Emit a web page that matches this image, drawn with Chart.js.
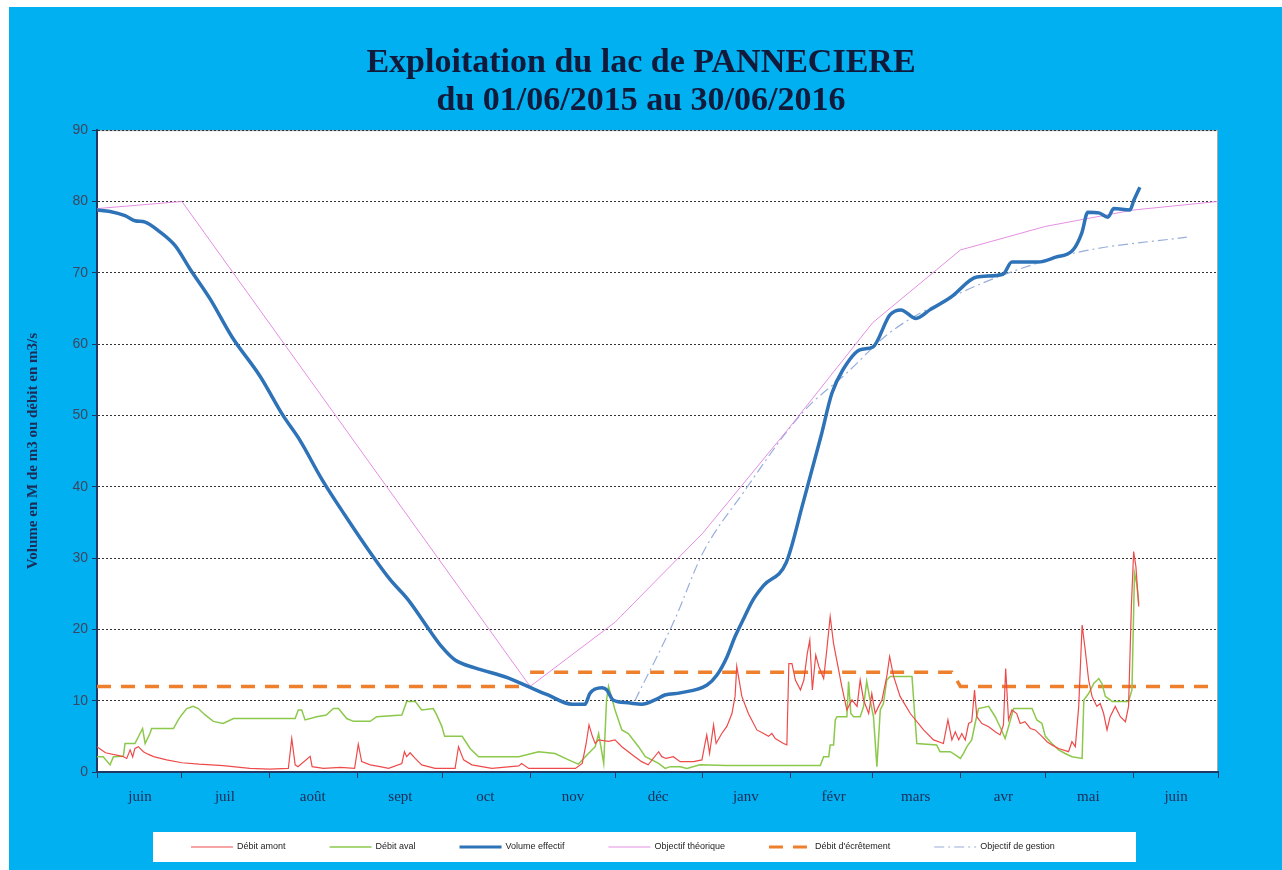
<html>
<head>
  <title>Exploitation du lac de Pannecière</title>
  <script src="https://cdn.jsdelivr.net/npm/chart.js"></script>
  <style>
    body {
      margin: 0;
      background-color: white;
    }
  </style>
</head>
<body>
  <canvas id="graphique" width="1282" height="870"></canvas>
  <script>
    //axe des abscisses : jours comptes depuis le 01/06/2015
    var debutsMois = [0, 30, 61, 92, 122, 153, 183, 214, 245, 274, 305, 335, 366, 396];
    var nomsMois = ["juin", "juil", "août", "sept", "oct", "nov", "déc", "janv", "févr", "mars", "avr", "mai", "juin"];
    var graduationsY = [0, 10, 20, 30, 40, 50, 60, 70, 80, 90];

    //debit amont (m3/s)
    var amontJours = [0, 3, 9, 10.5, 11.7, 12.6, 13.4, 14.6, 16.4, 18,
      20, 24.6, 30, 36, 44.6, 54, 61, 67.6, 68.8, 70,
      71, 75.3, 76, 80, 86, 91, 92.3, 93.5, 96.5, 100,
      103, 107.7, 108.6, 109.4, 110.6, 112.4, 114.7, 119.4, 126.5, 127.7,
      129.5, 132.4, 139.5, 149, 150, 152.5, 169, 171.4, 172.8, 173.8,
      175, 176, 177.2, 180.7, 183, 185.4, 190, 192.4, 194.7, 198.4,
      199.5, 201, 203.6, 206, 210.7, 213.7, 214.8, 215.4, 216.4, 217.8,
      218.7, 220.7, 222.5, 224.3, 225.4, 226, 227.8, 230.1, 233.1, 235.5,
      237.2, 238.4, 239.6, 242.5, 243.7, 244.4, 245.5, 246.7, 248.5, 249.7,
      250.9, 251.8, 252.7, 253.9, 255, 256.7, 257.8, 259, 260.2, 262,
      263.1, 264.9, 266.7, 268.5, 269.6, 270.8, 272.6, 273.7, 274.9, 276.1,
      277.3, 279, 280, 281.4, 283.7, 287.3, 292, 295.5, 299, 300.6,
      302, 303.2, 304.4, 305.5, 306.7, 307.9, 309, 310, 310.8, 312.6,
      315, 317.3, 319, 320.2, 321, 322, 323.2, 324.9, 326.1, 327.8,
      329.7, 331.4, 333.8, 335.6, 337.3, 339.7, 343.2, 344.4, 345.6, 346.8,
      348, 349.1, 350.3, 351.5, 353.2, 354.4, 355.6, 356.8, 357.9, 359.7,
      361.5, 363.3, 364.4, 365.4, 366.2, 367, 368];
    var amontDebits = [3.55, 2.7, 2.2, 1.9, 3.1, 2.1, 3.3, 3.55, 2.85, 2.5,
      2.15, 1.7, 1.3, 1.1, 0.9, 0.5, 0.4, 0.5, 4.7, 1.0,
      0.75, 2.2, 0.75, 0.5, 0.65, 0.5, 3.9, 1.45, 1.0, 0.75,
      0.5, 1.2, 2.85, 2.15, 2.7, 1.9, 1.0, 0.5, 0.5, 3.55,
      1.7, 1.0, 0.5, 0.85, 1.2, 0.5, 0.5, 1.2, 4.0, 6.6,
      5.0, 4.0, 4.5, 4.3, 4.5, 3.55, 2.15, 1.45, 1.0, 2.85,
      2.15, 1.9, 2.15, 1.45, 1.45, 1.7, 4.0, 5.2, 2.6, 6.6,
      4.0, 5.4, 6.4, 8.2, 10.6, 14.8, 10.6, 8.2, 5.9, 5.4,
      5.0, 5.4, 4.7, 4.0, 3.8, 15.2, 15.2, 12.9, 11.5, 12.9,
      16.6, 18.5, 11.5, 16.4, 14.8, 13.1, 17.1, 21.8, 18, 14.3,
      12, 8.7, 10.1, 9.2, 12.9, 10.1, 8.2, 11.0, 8.2, 9.2,
      10.1, 13.4, 16.2, 13.4, 10.6, 8.2, 5.9, 4.5, 4.0, 7.3,
      4.5, 5.65, 4.5, 5.4, 4.5, 6.8, 7.05, 11.5, 7.75, 6.8,
      6.35, 5.65, 5.2, 6.6, 14.5, 7.3, 8.7, 8.2, 6.8, 7.05,
      6.1, 5.9, 5.0, 4.25, 3.8, 3.3, 2.85, 4.25, 3.55, 9.2,
      20.6, 17.1, 12.9, 10.6, 9.2, 9.6, 8.2, 5.9, 7.75, 9.2,
      7.75, 7.05, 9.2, 23.2, 30.9, 28.8, 23.2];

    //debit aval (m3/s)
    var avalJours = [0, 2.2, 4.6, 5.8, 9.3, 9.9, 13.4, 15.2, 16.1, 17,
      18.7, 19.3, 27, 28.7, 29.9, 31.7, 34, 35.8, 38.2, 41.1,
      44.6, 48.2, 70, 71.1, 72.3, 73.5, 77.6, 81, 83.5, 85.3,
      88.2, 90.6, 96.5, 98.8, 107.7, 109.4, 112.4, 114.7, 118.8, 120,
      121.8, 122.8, 129, 131.8, 134.8, 149, 156, 161.8, 166.6, 170,
      173.6, 176, 177.2, 177.8, 179, 180, 180.7, 183, 185.4, 187.7,
      191.3, 193.7, 198.4, 200.7, 202.5, 206, 208.4, 213, 222.5, 234.3,
      255.5, 256.7, 258.5, 259, 260.2, 260.8, 261.4, 264.9, 265.5, 266.3,
      267.3, 269.6, 270.8, 271.9, 273.1, 274.3, 275.5, 276.7, 277.8, 279,
      280.2, 287.9, 289.6, 296.6, 297.8, 301.4, 303.2, 305, 306.1, 307.3,
      309, 310.2, 311.4, 315, 317.3, 319, 320.8, 322, 323.8, 330.3,
      332, 333.8, 335, 337.3, 339.7, 342, 344.4, 348, 348.6, 350.3,
      352.1, 353.9, 355, 356.2, 358.6, 364.4, 365.6, 366.5, 367.3, 368];
    var avalDebits = [2.15, 2.15, 1.0, 2.15, 2.2, 4.0, 4.0, 5.4, 6.1, 4.0,
      5.4, 6.1, 6.1, 7.3, 8.0, 8.9, 9.2, 8.9, 8.0, 7.1,
      6.8, 7.5, 7.5, 8.7, 8.7, 7.3, 7.75, 8.0, 8.9, 8.9,
      7.5, 7.1, 7.1, 7.75, 8.0, 9.9, 9.9, 8.7, 8.9, 8.0,
      6.4, 5.0, 5.0, 3.3, 2.15, 2.15, 2.85, 2.6, 1.7, 1.1,
      2.6, 3.55, 5.4, 4.0, 1.2, 10.1, 12, 8.7, 5.9, 5.4,
      3.55, 2.15, 1.2, 0.5, 0.75, 0.75, 0.5, 1.0, 0.9, 0.9,
      0.9, 2.15, 2.15, 3.8, 3.8, 7.3, 7.75, 7.75, 12.7, 8.2,
      7.75, 7.75, 9.2, 12.7, 10.1, 7.75, 0.75, 8.7, 9.6, 12.9,
      13.4, 13.4, 4.0, 3.8, 2.85, 2.85, 2.4, 1.9, 2.6, 3.55,
      4.5, 6.8, 8.9, 9.2, 7.75, 6.35, 4.7, 6.35, 8.9, 8.9,
      7.3, 6.8, 5.0, 4.0, 3.1, 2.6, 2.15, 1.9, 10.1, 11.0,
      12.4, 13.1, 12.4, 10.6, 9.9, 9.9, 11.5, 27.9, 26.4, 23.6];

    //volume effectif (M de m3)
    var volumeJours = [0, 4.6, 9.9, 13.4, 17, 22, 27.6, 32.9, 40, 47.7,
      57.6, 65.7, 71.7, 79.5, 87.6, 97, 103.5, 110, 117.6, 121.9,
      126.5, 133.5, 145.2, 152.2, 159.3, 167.8, 172.4, 174.1, 178.4, 180.1,
      182.3, 187.6, 192.5, 197.1, 200.6, 206, 215.5, 219, 222.5, 225.4,
      228.2, 231.7, 235.6, 243.4, 249.4, 255.7, 259.6, 263.5, 269.5, 274.1,
      280.1, 284, 289.3, 294.2, 301.7, 310.8, 320, 323.2, 332.4, 338.7,
      344.8, 347.9, 350, 353.9, 357.1, 359.2, 364.9, 366.3, 368.4];
    var volumeValeurs = [78.8, 78.6, 78.0, 77.3, 77.1, 75.8, 73.8, 70.5, 66.3, 61.0,
      55.5, 50, 46.5, 41, 36, 30.5, 27, 24.1, 19.8, 17.5,
      15.7, 14.6, 13.2, 12.0, 10.8, 9.5, 9.5, 11.0, 11.8, 11.5,
      10.1, 9.7, 9.5, 10.1, 10.8, 11.1, 12.2, 13.6, 16.1, 19,
      21.3, 24.1, 26.2, 29.3, 37.7, 47, 53.1, 56.4, 59.2, 59.6,
      64.1, 64.8, 63.6, 64.8, 66.6, 69.4, 69.8, 71.5, 71.5, 72.2,
      73.2, 75.6, 78.5, 78.4, 77.8, 79, 78.8, 80.2, 82];

    //objectif theorique (M de m3)
    var theoJours = [0, 30, 153, 183, 214, 245, 274, 305, 335, 366, 396];
    var theoValeurs = [79, 80, 12, 21, 33.5, 48.5, 63, 73.2, 76.5, 78.8, 80];

    //debit d'ecretement (m3/s) - null coupe la ligne au changement de palier
    var ecretJours = [0, 153, 153, 153, 302, 305, 396];
    var ecretDebits = [12, 12, null, 14, 14, 12, 12];

    //objectif de gestion (M de m3)
    var gestionJours = [190, 204, 214, 228, 249, 265, 280, 302, 325, 348, 385];
    var gestionValeurs = [10, 21.3, 30.7, 39, 50.3, 56, 61.6, 66.6, 70.4, 73, 75];

    //associe jours et valeurs en points {x, y}
    function points(jours, valeurs) {
      return jours.map(function (j, i) {
        return { x: j, y: valeurs[i] };
      });
    }

    //fond bleu, zone de tracé blanche
    var pluginFond = {
      id: 'fond',
      beforeDraw: function (chart) {
        var ctx = chart.ctx;
        var a = chart.chartArea;
        ctx.save();
        ctx.fillStyle = '#ffffff';
        ctx.fillRect(0, 0, chart.width, chart.height);
        ctx.fillStyle = '#00B0F0';
        ctx.fillRect(9, 7, chart.width - 9, chart.height - 7);
        ctx.fillStyle = '#ffffff';
        ctx.fillRect(a.left, a.top, a.right - a.left, a.bottom - a.top);
        ctx.strokeStyle = '#a8a8a8';
        ctx.lineWidth = 1;
        ctx.strokeRect(a.left + 0.5, a.top + 0.5, a.right - a.left - 1, a.bottom - a.top - 1);
        ctx.restore();
      }
    };

    //legende dans un cadre blanc en bas
    var pluginLegende = {
      id: 'legendeBas',
      afterDraw: function (chart) {
        var ctx = chart.ctx;
        ctx.save();
        ctx.fillStyle = '#ffffff';
        ctx.fillRect(153, 832, 983, 30);
        ctx.font = '9px "Liberation Sans"';
        ctx.textBaseline = 'middle';
        var x = 191;
        var y = 847;
        chart.data.datasets.forEach(function (ds) {
          ctx.beginPath();
          ctx.setLineDash(ds.borderDash || []);
          ctx.strokeStyle = ds.borderColor;
          ctx.lineWidth = Math.min(ds.borderWidth, 3);
          ctx.moveTo(x, y);
          ctx.lineTo(x + 42, y);
          ctx.stroke();
          ctx.setLineDash([]);
          ctx.fillStyle = '#222';
          ctx.fillText(ds.label, x + 46, y);
          x += 46 + ctx.measureText(ds.label).width + 44;
        });
        ctx.restore();
      }
    };

    var graphique = new Chart(document.getElementById('graphique'), {
      type: 'line',
      data: {
        datasets: [{
          label: 'Débit amont',
          data: points(amontJours, amontDebits),
          borderColor: '#EE4A4A',
          borderWidth: 1.2,
          order: 1
        }, {
          label: 'Débit aval',
          data: points(avalJours, avalDebits),
          borderColor: '#8CC84B',
          borderWidth: 1.5,
          order: 2
        }, {
          label: 'Volume effectif',
          data: points(volumeJours, volumeValeurs),
          borderColor: '#2E72B8',
          borderWidth: 3.5,
          cubicInterpolationMode: 'monotone',
          order: 0
        }, {
          label: 'Objectif théorique',
          data: points(theoJours, theoValeurs),
          borderColor: '#E48FE2',
          borderWidth: 1,
          order: 3
        }, {
          label: "Débit d'écrêtement",
          data: points(ecretJours, ecretDebits),
          borderColor: '#EE7F2D',
          borderWidth: 3.5,
          borderDash: [14, 10],
          spanGaps: false,
          order: 5
        }, {
          label: 'Objectif de gestion',
          data: points(gestionJours, gestionValeurs),
          borderColor: '#98AEDA',
          borderWidth: 1.2,
          borderDash: [10, 4, 2, 4],
          cubicInterpolationMode: 'monotone',
          order: 4
        }]
      },
      options: {
        responsive: false,
        animation: false,
        elements: {
          point: { radius: 0 },
          line: { tension: 0, fill: false }
        },
        layout: {
          padding: { left: 20, right: 20, top: 8, bottom: 63 }
        },
        plugins: {
          legend: { display: false },
          tooltip: { enabled: false },
          title: {
            display: true,
            text: ['Exploitation du lac de PANNECIERE', 'du 01/06/2015 au 30/06/2016'],
            color: '#111a3a',
            font: { family: '"Liberation Serif"', size: 34, weight: 'bold', lineHeight: 1.12 },
            padding: { top: 36, bottom: 10 }
          }
        },
        scales: {
          x: {
            type: 'linear',
            min: 0,
            max: 396,
            afterBuildTicks: function (axe) {
              axe.ticks = debutsMois.map(function (v) { return { value: v }; });
            },
            afterFit: function (axe) { axe.height = 35; },
            ticks: {
              autoSkip: false,
              maxRotation: 0,
              labelOffset: 43,
              padding: 10,
              color: '#1d2b55',
              font: { family: '"Liberation Serif"', size: 15 },
              callback: function (v, i) { return nomsMois[i] || ''; }
            },
            grid: {
              drawOnChartArea: false,
              drawTicks: true,
              tickLength: 6,
              tickColor: '#1F3864'
            },
            border: { display: true, color: '#1F3864', width: 2 }
          },
          y: {
            min: 0,
            max: 90,
            afterBuildTicks: function (axe) {
              axe.ticks = graduationsY.map(function (v) { return { value: v }; });
            },
            afterFit: function (axe) { axe.width = 77; },
            ticks: {
              padding: 4,
              color: '#3d4660',
              font: { family: '"Liberation Sans"', size: 14 }
            },
            grid: {
              color: '#333333',
              lineWidth: 1,
              tickLength: 5,
              tickColor: '#1F3864'
            },
            border: { display: true, color: '#1F3864', width: 2, dash: [2, 2] },
            title: {
              display: true,
              text: 'Volume en M de m3 ou débit en m3/s',
              color: '#1d2b55',
              font: { family: '"Liberation Serif"', size: 15, weight: 'bold' },
              padding: { top: 4, bottom: 4 }
            }
          },
          //axe vide a droite : marge pour que le titre reste centre sur la page
          yDroite: {
            position: 'right',
            min: 0,
            max: 90,
            afterFit: function (axe) { axe.width = 44; },
            ticks: { display: false },
            grid: { display: false },
            border: { display: false }
          }
        }
      },
      plugins: [pluginFond, pluginLegende]
    });
  </script>
</body>
</html>
